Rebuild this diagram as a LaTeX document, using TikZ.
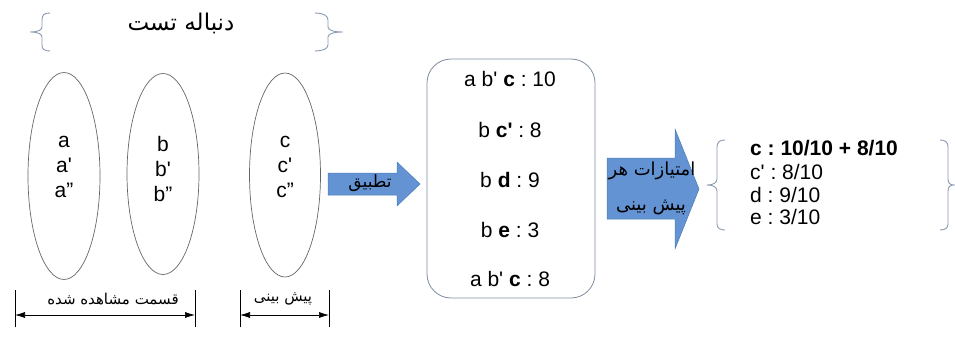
\documentclass[tikz,border=0pt]{standalone}
\usepackage{fontspec}
\setmainfont{Liberation Sans}
\newfontfamily\arabicfont[Script=Arabic]{DejaVu Sans}
\TeXXeTstate=1
\usetikzlibrary{shapes.geometric,arrows.meta}

% right-to-left Persian text
\newcommand\fa[1]{{\arabicfont\beginR #1\endR}}
\newcommand\q{\textquotesingle}

\definecolor{bracegray}{HTML}{8A9AB0}
\definecolor{boxedge}{HTML}{7F8C9E}
\definecolor{arrowblue}{HTML}{6393D2}
\definecolor{arrowedge}{HTML}{4E7DBA}

\begin{document}
\frenchspacing
\begin{tikzpicture}[x=1pt,y=-1pt,
  oval/.style={ellipse,draw=black!60,line width=0.7pt,inner sep=0pt},
  ovaltext/.style={align=center,font=\fontsize{21}{25}\selectfont,inner sep=0pt},
  listbox/.style={draw=boxedge,line width=0.8pt,rounded corners=24pt,inner sep=0pt},
  listtext/.style={font=\fontsize{21}{24}\selectfont,inner sep=0pt},
  scoretext/.style={font=\fontsize{21}{23}\selectfont,inner sep=0pt,anchor=west},
  curly/.style={draw=bracegray,line width=0.9pt},
  blockarrow/.style={fill=arrowblue,draw=arrowedge,line width=0.5pt},
  dimline/.style={draw=black,line width=0.7pt,{Latex[length=10pt,width=6pt]}-{Latex[length=10pt,width=6pt]}},
  dimtick/.style={draw=black,line width=0.7pt},
  fatext/.style={font=\fontsize{15}{18}\selectfont,inner sep=0pt},
  arrowtext/.style={font=\fontsize{18}{21}\selectfont,inner sep=0pt}
]
\useasboundingbox (0,0) rectangle (955,342);

% title brace pair
\node[font=\fontsize{23}{26}\selectfont,inner sep=0pt] (title) at (181,23) {\fa{دنباله تست}};
\path[curly] (50,13) .. controls (44,13) and (42,15) .. (42,20) -- (42,27)
  .. controls (42,30) and (38,32) .. (30,32)
  .. controls (38,32) and (42,34) .. (42,37) -- (42,45)
  .. controls (42,49) and (44,51) .. (50,51);
\path[curly] (315,13) .. controls (322,13) and (328,15) .. (328,20) -- (328,27)
  .. controls (328,30) and (333,32) .. (343,32)
  .. controls (333,32) and (328,34) .. (328,37) -- (328,45)
  .. controls (328,49) and (322,51) .. (315,51);

% observed part and predicted part
\node[oval,minimum width=72pt,minimum height=207pt] (ova) at (64,176) {};
\node[oval,minimum width=72pt,minimum height=201pt] (ovb) at (163,174) {};
\node[oval,minimum width=71pt,minimum height=204pt] (ovc) at (285,175) {};
\node[ovaltext] (ta) at (64,167) {a\\a\q\\a''};
\node[ovaltext] (tb) at (163,169) {b\\b\q\\b''};
\node[ovaltext] (tc) at (285,167) {c\\c\q\\c''};

% dimension lines under the ovals
\coordinate (d1l) at (15,315);
\coordinate (d1r) at (195,315);
\coordinate (d2l) at (240,315);
\coordinate (d2r) at (329,315);
\foreach \c in {d1l,d1r,d2l,d2r}
  \draw[dimtick] ([yshift=-12pt]\c) -- ([yshift=25pt]\c);
\draw[dimline] (d1l) -- (d1r);
\draw[dimline] (d2l) -- (d2r);
\node[fatext] (obs) at (113,299) {\fa{قسمت مشاهده شده}};
\node[fatext] (pred) at (283,299) {\fa{پیش بینی}};

% matching arrow
\path[blockarrow] (328,173) -- (397,173) -- (397,162) -- (420,184) -- (397,206) -- (397,195) -- (328,195) -- cycle;
\node[arrowtext,font=\fontsize{17}{20}\selectfont] (match) at (370,183) {\fa{تطبیق}};

% matched sequences
\node[listbox,minimum width=168pt,minimum height=239pt] (list) at (511,178.5) {};
\node[listtext] (m1) at (510,79) {a b\q{} \textbf{c} : 10};
\node[listtext] (m2) at (510,130) {b \textbf{c\q} : 8};
\node[listtext] (m3) at (510,180) {b \textbf{d} : 9};
\node[listtext] (m4) at (510,230) {b \textbf{e} : 3};
\node[listtext] (m5) at (510,279) {a b\q{} \textbf{c} : 8};

% scoring arrow
\path[blockarrow] (607,158) -- (675,158) -- (675,129) -- (699,189) -- (675,249) -- (675,219) -- (607,219) -- cycle;
\node[arrowtext] (score1) at (652,171) {\fa{امتیازات هر}};
\node[arrowtext] (score2) at (651,207) {\fa{پیش بینی}};

% scores
\path[curly] (725,140) .. controls (720,140) and (717,142) .. (717,147) -- (717,179)
  .. controls (717,183) and (713,185) .. (707,185)
  .. controls (713,185) and (717,187) .. (717,191) -- (717,224)
  .. controls (717,228) and (720,230) .. (725,230);
\path[curly] (940,140) .. controls (945,140) and (948,142) .. (948,147) -- (948,179)
  .. controls (948,183) and (950,185) .. (954,185)
  .. controls (950,185) and (948,187) .. (948,191) -- (948,224)
  .. controls (948,228) and (945,230) .. (940,230);
\node[scoretext,font=\bfseries\fontsize{21}{23}\selectfont] (s1) at (750,148) {c : 10/10 + 8/10};
\node[scoretext] (s2) at (750,172) {c\q{} : 8/10};
\node[scoretext] (s3) at (750,195) {d : 9/10};
\node[scoretext] (s4) at (750,217) {e : 3/10};
\end{tikzpicture}
\end{document}
